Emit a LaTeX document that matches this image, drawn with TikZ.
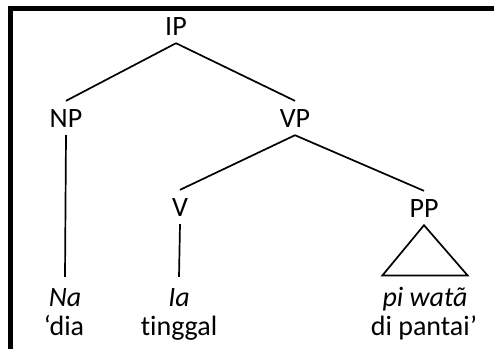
\documentclass[tikz,border=0pt]{standalone}
\usepackage{fontspec}
\setmainfont{Carlito}[Ligatures=CommonOff]
\usepackage{tikz}

\begin{document}
\begin{tikzpicture}[
    x=1pt, y=-1pt,
    cat/.style={font=\fontsize{28}{30}\selectfont, inner xsep=0pt, inner ysep=8pt, anchor=base},
    word/.style={cat, inner ysep=11pt, font=\fontsize{28}{30}\selectfont\itshape},
    gloss/.style={cat, inner ysep=0pt},
    branch/.style={line width=1.7pt},
    frame/.style={line width=5pt, line join=miter}
]
\useasboundingbox (0,0) rectangle (494,349);

% Frame
\draw[frame] (10.5,349) -- (10.5,8.5) -- (494,8.5);

% Phrases
\node[cat] (IP) at (176,35) {IP};
\node[cat] (NP) at (66,127) {NP};
\node[cat] (VP) at (295,127) {VP};
\node[cat] (V) at (180,216) {V};
\node[cat] (PP) at (424,217) {PP};

% Words
\node[word] (na) at (65,306) {Na};
\node[word] (ia) at (179,306) {Ia};
\node[word] (piwata) at (425,306) {pi watã};

% Glosses
\node[gloss] (dia) at (64,335) {‘dia};
\node[gloss] (tinggal) at (179,335) {tinggal};
\node[gloss] (dipantai) at (424,335) {di pantai’};

% Branches
\draw[branch] (IP.south) -- (NP.north);
\draw[branch] (IP.south) -- (VP.north);
\draw[branch] (VP.south) -- (V.north);
\draw[branch] (VP.south) -- (PP.north);
\draw[branch] (NP.south) -- (na.north);
\draw[branch] (V.south) -- (ia.north);
\draw[branch] (PP.south) -- (piwata.north west) -- (piwata.north east) -- cycle;

\end{tikzpicture}
\end{document}
